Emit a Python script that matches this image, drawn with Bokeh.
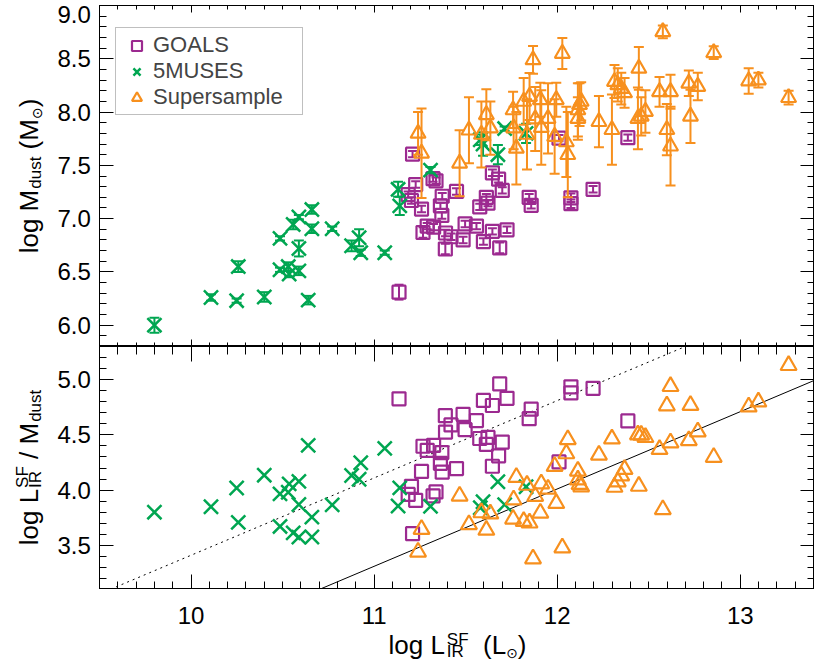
import numpy as np
from math import pi
from bokeh.plotting import figure
from bokeh.models import (Range1d, LinearAxis, FixedTicker, Label, Legend, LegendItem,
                          ColumnDataSource, CustomJSTickFormatter)
from bokeh.layouts import column, row
from bokeh.embed import file_html
from bokeh.resources import INLINE

# ---------------- data ----------------
goals_lir = [11.136, 11.21, 11.227, 11.186, 11.204, 11.259, 11.322, 11.338, 11.372, 11.362,
             11.37, 11.45, 11.267, 11.29, 11.325, 11.39, 11.389, 11.42, 11.486, 11.497,
             11.559, 11.597, 11.646, 11.686, 11.726, 11.577, 11.613, 11.622, 11.646, 11.68,
             11.70, 11.847, 11.858, 12.075, 12.075, 12.196, 12.01, 12.386]
goals_mdust = [6.31, 7.605, 7.32, 7.225, 7.17, 7.09, 7.375, 7.355, 7.21, 7.12,
               7.03, 7.255, 6.87, 6.93, 6.92, 6.865, 6.715, 6.83, 6.80, 6.95,
               6.93, 6.785, 6.88, 6.725, 6.895, 7.11, 7.20, 7.145, 7.43, 7.37,
               7.265, 7.20, 7.125, 7.14, 7.195, 7.275, 7.755, 7.76]
goals_err = [0.07, 0.03, 0.03, 0.03, 0.03, 0.03, 0.03, 0.03, 0.03, 0.03,
             0.03, 0.03, 0.05, 0.03, 0.03, 0.03, 0.05, 0.03, 0.03, 0.03,
             0.03, 0.03, 0.03, 0.05, 0.03, 0.03, 0.03, 0.03, 0.03, 0.03,
             0.03, 0.03, 0.03, 0.04, 0.04, 0.03, 0.03, 0.03]

muses_lir = [9.80, 10.109, 10.249, 10.258, 10.40, 10.486, 10.486, 10.531, 10.536, 10.589,
             10.589, 10.558, 10.589, 10.66, 10.66, 10.64, 10.771, 10.877, 10.918, 10.927,
             11.058, 11.131, 11.14, 11.308, 11.595, 11.58, 11.676, 11.713, 11.83]
muses_mdust = [6.00, 6.26, 6.23, 6.55, 6.265, 6.815, 6.52, 6.55, 6.48, 6.51,
               6.72, 6.945, 7.015, 7.085, 6.905, 6.235, 6.905, 6.745, 6.82, 6.68,
               6.68, 7.275, 7.12, 7.455, 7.70, 7.74, 7.60, 7.845, 7.80]
muses_err = [0.07, 0.03, 0.02, 0.05, 0.045, 0.02, 0.02, 0.04, 0.03, 0.04,
             0.075, 0.045, 0.02, 0.04, 0.04, 0.04, 0.02, 0.05, 0.08, 0.03,
             0.02, 0.07, 0.085, 0.03, 0.11, 0.05, 0.09, 0.02, 0.09]

super_lir = [11.24, 11.259, 11.467, 11.518, 11.586, 11.613, 11.635, 11.759, 11.777, 11.762,
             11.817, 11.868, 11.849, 11.835, 11.88, 11.908, 11.913, 11.95, 11.995, 12.028,
             11.986, 12.058, 12.05, 12.113, 12.113, 12.122, 12.131, 12.228, 12.299, 12.313,
             12.331, 12.35, 12.368, 12.446, 12.441, 12.459, 12.482, 12.559, 12.577, 12.599,
             12.619, 12.619, 12.719, 12.728, 12.768, 12.855, 13.046, 13.099, 13.264]
super_mdust = [7.80, 7.614, 7.52, 7.83, 7.79, 7.975, 7.85, 8.02, 7.66, 7.85,
               8.10, 8.49, 8.146, 7.79, 7.935, 8.115, 7.855, 7.94, 8.115, 8.55,
               7.77, 7.60, 7.72, 7.94, 8.02, 8.07, 8.10, 7.91, 7.835, 8.286,
               8.255, 8.22, 8.18, 8.41, 7.94, 7.96, 8.005, 8.19, 8.753, 7.835,
               7.68, 8.19, 8.27, 7.96, 8.24, 8.557, 8.292, 8.30, 8.135]
super_err = [0.20, 0.42, 0.31, 0.31, 0.31, 0.24, 0.25, 0.17, 0.34, 0.20,
             0.22, 0.13, 0.22, 0.33, 0.30, 0.16, 0.35, 0.33, 0.16, 0.145,
             0.35, 0.40, 0.33, 0.20, 0.25, 0.20, 0.18, 0.24, 0.33, 0.155,
             0.155, 0.15, 0.14, 0.20, 0.29, 0.18, 0.20, 0.14, 0.06, 0.24,
             0.37, 0.16, 0.12, 0.25, 0.13, 0.06, 0.12, 0.07, 0.065]

# relations drawn in the lower panel: log(L/M) = slope * logL + intercept
rel_slope = 0.70
rel_icpt_solid = -4.39
rel_icpt_dotted = -3.59

x_major = [10, 11, 12, 13]
top_y_major = [6.0, 6.5, 7.0, 7.5, 8.0, 8.5, 9.0]
bot_y_major = [3.5, 4.0, 4.5, 5.0]

series_names = ["GOALS", "5MUSES", "Supersample"]

# ---------------- styling ----------------
C_GOALS = "#9C2A90"
C_MUSES = "#00A651"
C_SUPER = "#F7901E"
FONT = "Liberation Sans"
DJ = "DejaVu Sans"
TICK_FS = "24px"
MID = 0.346          # distance from text baseline to the middle of its em box, in em

X0, X1 = 9.5, 13.4
TOP_Y = (5.8, 9.0)
BOT_Y = (3.1, 5.3)
LEFT_W = 99          # width of the left strip that holds the y titles and tick labels
TITLE_W = 51         # part of that strip used by the rotated titles
FW = 714
FH_TOP = 341
FH_BOT = 243
TOP_PAD = 5
PAGE_H = 662
XT_H = PAGE_H - (TOP_PAD + FH_TOP + FH_BOT)   # strip under the lower panel

xr = Range1d(X0, X1)
yr_top = Range1d(*TOP_Y)
yr_bot = Range1d(*BOT_Y)

def minor(a, b, step=0.1):
    n = int(round((b - a) / step))
    return [round(a + i * step, 3) for i in range(n + 1)]

x_minor = minor(X0, X1)

def blank():
    return CustomJSTickFormatter(code="return ''")

def tick_axis(ax, ticks, minors, tin, tmin):
    ax.ticker = FixedTicker(ticks=ticks, minor_ticks=minors)
    ax.major_tick_in = tin
    ax.major_tick_out = 0
    ax.minor_tick_in = tmin
    ax.minor_tick_out = 0
    ax.axis_line_color = "black"
    ax.major_tick_line_color = "black"
    ax.minor_tick_line_color = "black"
    ax.formatter = blank()
    ax.major_label_standoff = 0
    ax.major_label_text_font_size = "0px"


def bare_fig(fw, fh, xrange, yrange, **borders):
    p = figure(frame_width=fw, frame_height=fh, x_range=xrange, y_range=yrange, title=None,
               x_axis_type=None, y_axis_type=None, output_backend="svg",
               toolbar_location=None, min_border=0, **borders)
    p.outline_line_color = None
    p.background_fill_color = "white"
    p.border_fill_color = "white"
    return p


def main_fig(yrange, fh, **borders):
    p = figure(frame_width=FW, frame_height=fh, x_range=xr, y_range=yrange, title=None,
               output_backend="svg", toolbar_location=None, min_border=0, **borders)
    p.xgrid.visible = False
    p.ygrid.visible = False
    p.outline_line_color = "black"
    p.background_fill_color = "white"
    p.border_fill_color = "white"
    return p


def label_strip(yrange, fh, ticks, texts, **borders):
    """Left strip: tick labels of the y axis (drawn by a tick-less axis)."""
    p = bare_fig(TITLE_W, fh, Range1d(0, TITLE_W), yrange,
                 min_border_right=LEFT_W - TITLE_W, **borders)
    ax = LinearAxis(ticker=FixedTicker(ticks=ticks, minor_ticks=[]),
                    formatter=CustomJSTickFormatter(args=dict(labs=texts),
                                                    code="return labs[index]"),
                    major_tick_in=0, major_tick_out=0, minor_tick_in=0, minor_tick_out=0,
                    axis_line_color=None, major_label_standoff=6,
                    major_label_text_font=FONT, major_label_text_font_size=TICK_FS,
                    major_label_text_color="black")
    p.add_layout(ax, "right")
    return p

# ---------------- top panel ----------------
top = main_fig(yr_top, FH_TOP, min_border_top=TOP_PAD, min_border_right=5)
ty_minor = minor(TOP_Y[0], TOP_Y[1])
tick_axis(top.xaxis[0], x_major, x_minor, 7, 4)
tick_axis(top.yaxis[0], top_y_major, ty_minor, 14, 7)
ax = LinearAxis(); tick_axis(ax, x_major, x_minor, 7, 4); top.add_layout(ax, "above")
ax = LinearAxis(); tick_axis(ax, top_y_major, ty_minor, 13, 6); top.add_layout(ax, "right")

def draw_series(p, lir, md, err, color, marker, size, lw, cap):
    lir = np.array(lir); md = np.array(md); err = np.array(err)
    src = ColumnDataSource(dict(x=lir, y=md, lo=md - err, hi=md + err))
    p.segment(x0="x", y0="lo", x1="x", y1="hi", source=src, line_color=color, line_width=2)
    p.scatter(x="x", y="lo", source=src, marker="dash", size=cap, line_color=color, line_width=2)
    p.scatter(x="x", y="hi", source=src, marker="dash", size=cap, line_color=color, line_width=2)
    return p.scatter(x="x", y="y", source=src, marker=marker, size=size, fill_alpha=0,
                     line_color=color, line_width=lw)

r_g = draw_series(top, goals_lir, goals_mdust, goals_err, C_GOALS, "square", 13, 2.2, 9)
r_m = draw_series(top, muses_lir, muses_mdust, muses_err, C_MUSES, "x", 20, 2.5, 10)
r_s = draw_series(top, super_lir, super_mdust, super_err, C_SUPER, "triangle", 15, 2.2, 10)

legend = Legend(items=[LegendItem(label=series_names[0], renderers=[r_g]),
                       LegendItem(label=series_names[1], renderers=[r_m]),
                       LegendItem(label=series_names[2], renderers=[r_s])],
                location=(16, FH_TOP - 24 - 86), orientation="vertical",
                glyph_width=33, glyph_height=25, label_height=25, label_width=145,
                spacing=0, padding=4, margin=0, label_standoff=0,
                label_text_font=FONT, label_text_font_size="22px",
                label_text_baseline="middle",
                border_line_color="#7f7f7f", border_line_width=1,
                background_fill_color="white", background_fill_alpha=1)
top.add_layout(legend)

# ---------------- bottom panel ----------------
bot = main_fig(yr_bot, FH_BOT, min_border_right=5)
by_minor = minor(BOT_Y[0], BOT_Y[1])
tick_axis(bot.xaxis[0], x_major, x_minor, 15, 8)
tick_axis(bot.yaxis[0], bot_y_major, by_minor, 14, 7)
ax = LinearAxis(); tick_axis(ax, x_major, x_minor, 15, 8); bot.add_layout(ax, "above")
ax = LinearAxis(); tick_axis(ax, bot_y_major, by_minor, 13, 6); bot.add_layout(ax, "right")

lx = np.array([X0, X1])
bot.line(lx, rel_slope * lx + rel_icpt_dotted, line_color="black", line_width=1, line_dash="2 4")
bot.line(lx, rel_slope * lx + rel_icpt_solid, line_color="black", line_width=1)

def ratio_series(p, lir, md, color, marker, size, lw):
    lir = np.array(lir); md = np.array(md)
    p.scatter(lir, lir - md, marker=marker, size=size, fill_alpha=0,
              line_color=color, line_width=lw)

ratio_series(bot, goals_lir, goals_mdust, C_GOALS, "square", 13, 2.2)
ratio_series(bot, muses_lir, muses_mdust, C_MUSES, "x", 20, 2.5)
ratio_series(bot, super_lir, super_mdust, C_SUPER, "triangle", 16, 2.2)

# ---------------- left strips (y tick labels + rotated titles) ----------------
px_per_unit_top = FH_TOP / (TOP_Y[1] - TOP_Y[0])
top_tick_text = ["%.1f" % v for v in top_y_major]
top_tick_pos = top_y_major[:-1] + [top_y_major[-1] - 9.0 / px_per_unit_top]  # top label sits just below the corner
lt = label_strip(yr_top, FH_TOP, top_tick_pos, top_tick_text, min_border_top=TOP_PAD)

bot_tick_text = ["%.1f" % v for v in bot_y_major]
lb = label_strip(yr_bot, FH_BOT, bot_y_major, bot_tick_text)

# ---------------- strip under the lower panel (x tick labels + x title) ----------------
xt = bare_fig(FW, XT_H, xr, Range1d(0, XT_H), min_border_left=LEFT_W, min_border_right=5)
XT_TICK_BASE = XT_H - 34      # baseline of the x tick labels (px above strip bottom)
for v in x_major:
    xt.add_layout(Label(x=v, y=XT_TICK_BASE + MID * 24, text="%d" % v, text_align="center",
                        text_baseline="middle", text_font=FONT, text_font_size=TICK_FS,
                        text_color="black"))

# ---------------- composite axis titles ----------------
CW = {' ': 0.278, '(': 0.333, ')': 0.333, '/': 0.278, 'l': 0.222, 'o': 0.556, 'g': 0.556,
      'M': 0.833, 'd': 0.556, 'u': 0.556, 's': 0.5, 't': 0.278, 'L': 0.556, 'I': 0.278,
      'R': 0.722, 'S': 0.667, 'F': 0.611, '\u2299': 0.838}

def tw(s, fs):
    return sum(CW.get(c, 0.6) for c in s) * fs

SUN = "\u2299"

def place(p, pieces, xd, yd, start_px, base_px, vertical):
    """pieces: (text, size, shift, advance, font, gap). Text pieces laid along a baseline;
    each label is anchored at the middle of its em box."""
    pos = start_px
    for text, fs, sh, adv, font, gap in pieces:
        pos += gap
        mid = MID * fs
        if vertical:
            lab = Label(x=xd, y=yd, x_offset=base_px - sh - mid, y_offset=pos, text=text,
                        angle=pi / 2, text_align="left", text_baseline="middle",
                        text_font=font, text_font_size=f"{fs}px", text_color="black")
        else:
            lab = Label(x=xd, y=yd, x_offset=pos, y_offset=base_px + sh + mid, text=text,
                        text_align="left", text_baseline="middle",
                        text_font=font, text_font_size=f"{fs}px", text_color="black")
        p.add_layout(lab)
        if adv:
            pos += tw(text, fs)

def span(pieces):
    return sum(tw(t, fs) + g for t, fs, sh, adv, font, g in pieces if adv)

TF = 26
SS = 17
SP = tw(" ", TF)
BASE_X = 37   # baseline of the rotated titles (px from the strip's left edge)

top_title = [("log M", TF, 0, True, FONT, 0), ("dust", SS, -4, True, FONT, 1),
             ("(M", TF, 0, True, FONT, SP), (SUN, 14, -4, True, DJ, 0), (")", TF, 0, True, FONT, 0)]
bot_title = [("log L", TF, 0, True, FONT, 0), ("IR", SS, -4, False, FONT, 1),
             ("SF", SS, 9, True, FONT, 0), ("/ M", TF, 0, True, FONT, SP),
             ("dust", SS, -4, True, FONT, 1)]
x_title = [("log L", TF, 0, True, FONT, 0), ("IR", SS, -4, False, FONT, 2),
           ("SF", SS, 8, True, FONT, 0), ("(L", TF, 0, True, FONT, 2 * SP),
           (SUN, 14, -4, True, DJ, 0), (")", TF, 0, True, FONT, 0)]

# rotated titles centred on their panels
place(lt, top_title, 0, TOP_Y[0], FH_TOP / 2.0 - span(top_title) / 2.0, BASE_X, True)
place(lb, bot_title, 0, BOT_Y[0], FH_BOT / 2.0 - span(bot_title) / 2.0, BASE_X, True)
# x title centred under the frame, baseline 9 px above the bottom of the strip
place(xt, x_title, X0, 0, FW / 2.0 - span(x_title) / 2.0, 9, False)

layout = column(row(lt, top, spacing=0), row(lb, bot, spacing=0), xt, spacing=0)
open("out.html", "w").write(file_html(layout, INLINE))
